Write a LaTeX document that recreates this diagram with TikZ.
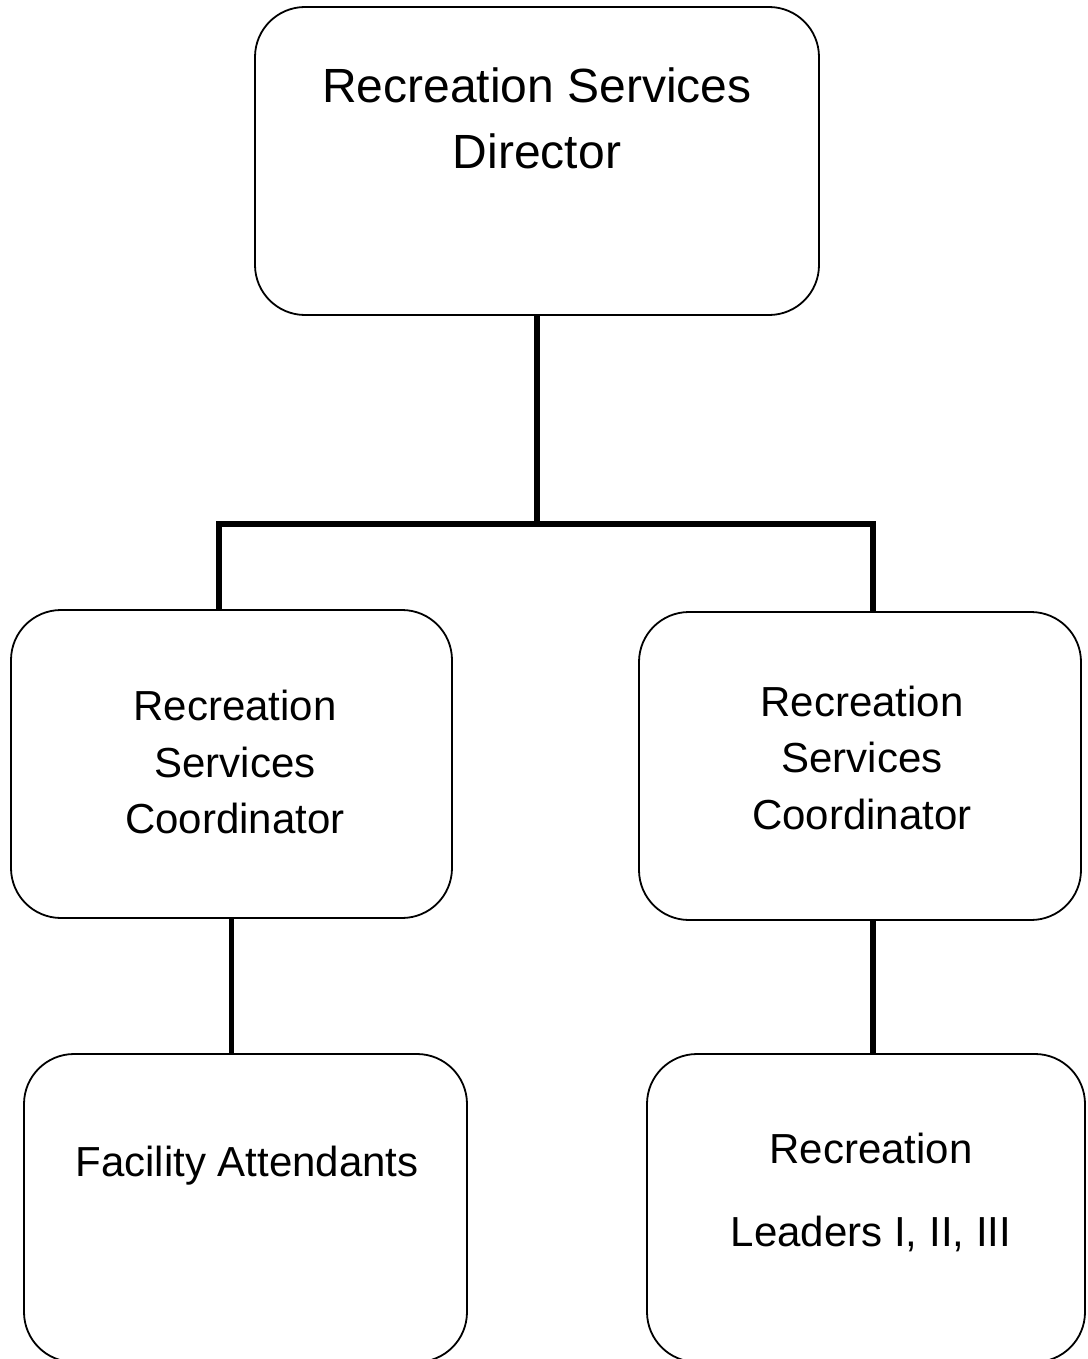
\documentclass[tikz,border=0pt]{standalone}
\usepackage{fontspec}
\setmainfont{Liberation Sans}
\begin{document}
\begin{tikzpicture}[x=1pt,y=-1pt,
  box/.style={draw=black,line width=1.8pt,rounded corners=50pt,rectangle,
    inner sep=0pt,outer sep=0pt,minimum height=308pt},
  conn/.style={draw=black,line width=5.5pt},
  big/.style={anchor=base,inner sep=0pt,font=\fontsize{48}{56}\selectfont},
  txt/.style={anchor=base,inner sep=0pt,font=\fontsize{42}{50}\selectfont}]
\useasboundingbox (0,0) rectangle (1087,1359);
\clip (0,0) rectangle (1087,1359);

% boxes
\node[box,minimum width=564pt] (dir) at (537,161) {};
\node[box,minimum width=441pt] (lm) at (231.5,764) {};
\node[box,minimum width=442pt] (rm) at (860,766) {};
\node[box,minimum width=443pt] (bl) at (245.5,1208) {};
\node[box,minimum width=438pt] (br) at (866,1208) {};

% labels
\node[big] (t1) at (537,103) {Recreation Services};
\node[big] (t2) at (537,169) {Director};
\node[txt] (l1) at (235,720) {Recreation};
\node[txt] (l2) at (235,777) {Services};
\node[txt] (l3) at (235,833) {Coordinator};
\node[txt] (r1) at (862,716) {Recreation};
\node[txt] (r2) at (862,772) {Services};
\node[txt] (r3) at (862,829) {Coordinator};
\node[txt] (f1) at (247,1176) {Facility Attendants};
\node[txt] (p1) at (871,1163) {Recreation};
\node[txt] (p2) at (871,1246) {Leaders I, II, III};

% connectors
\coordinate (busL) at (219,524);
\coordinate (busR) at (873,524);
\draw[conn] (dir.south) -- (dir.south |- busL);
\draw[conn] (lm.north -| busL) -- (busL) -- (busR) -- (rm.north -| busR);
\draw[conn] (lm.south) -- (lm.south |- bl.north);
\draw[conn] (rm.south -| busR) -- (busR |- br.north);
\end{tikzpicture}
\end{document}
